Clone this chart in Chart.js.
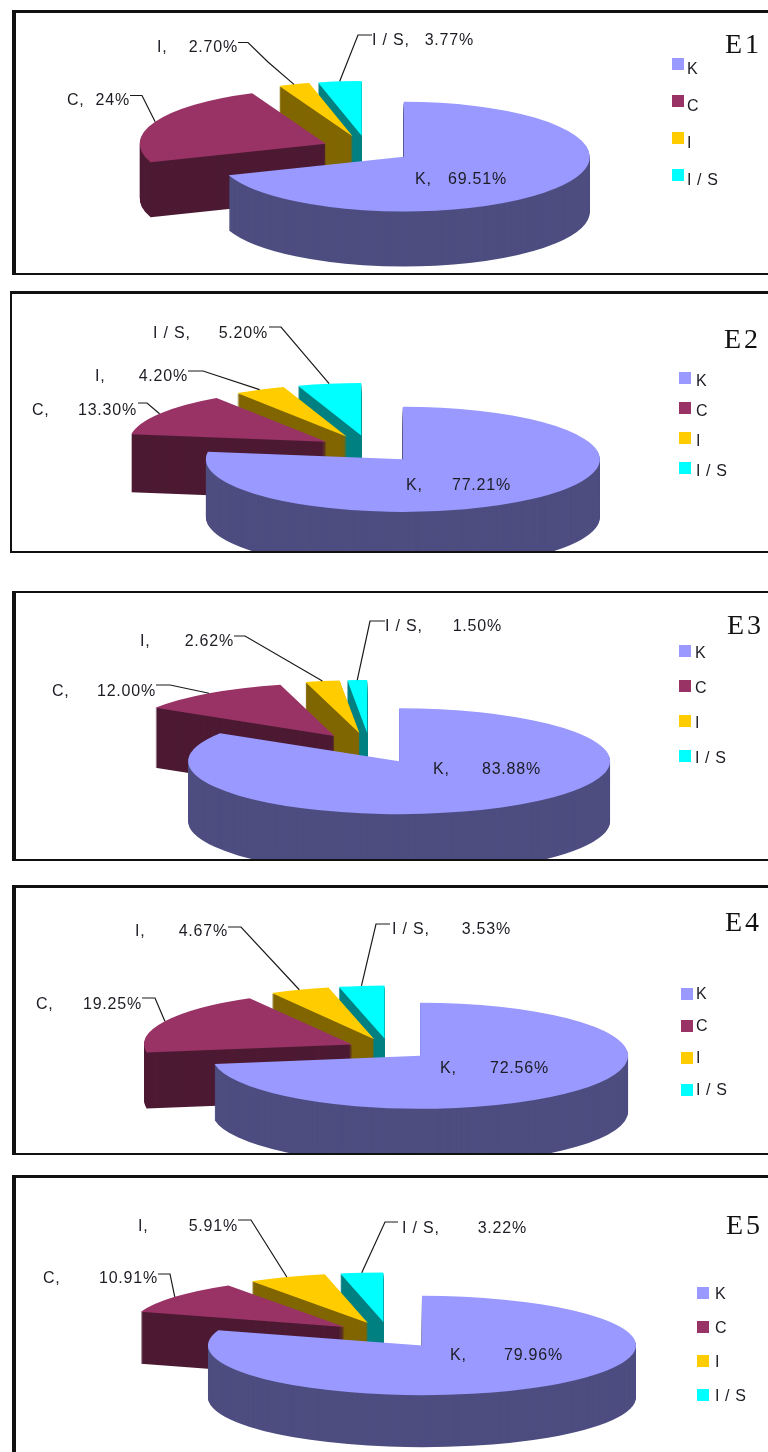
<!DOCTYPE html>
<html>
<head>
<meta charset="utf-8">
<style>
html,body{margin:0;padding:0;background:#fff;width:768px;height:1452px;overflow:hidden}
#page{position:relative;width:768px;height:1452px;overflow:hidden}
.panel{position:absolute;box-sizing:border-box;border:2px solid #111;overflow:hidden;background:#fff}
canvas{position:absolute;left:0;top:0;display:block;filter:blur(0.45px)}
</style>
</head>
<body>
<div id="page"></div>
<script src="https://cdn.jsdelivr.net/npm/chart.js@4"></script>
<script>
// ---- data ----
const categories = ['K', 'C', 'I', 'I / S'];
const panelNames = ['E1', 'E2', 'E3', 'E4', 'E5'];
const e1Values = [69.51, 24, 2.70, 3.77];
const e2Values = [77.21, 13.30, 4.20, 5.20];
const e3Values = [83.88, 12.00, 2.62, 1.50];
const e4Values = [72.56, 19.25, 4.67, 3.53];
const e5Values = [79.96, 10.91, 5.91, 3.22];
const e1Text = ['69.51%', '24%', '2.70%', '3.77%'];
const e2Text = ['77.21%', '13.30%', '4.20%', '5.20%'];
const e3Text = ['83.88%', '12.00%', '2.62%', '1.50%'];
const e4Text = ['72.56%', '19.25%', '4.67%', '3.53%'];
const e5Text = ['79.96%', '10.91%', '5.91%', '3.22%'];

// ---- styles ----
const topColors = ['#9999ff', '#993366', '#ffcc00', '#00ffff'];
const sideColors = ['#4d4d80', '#4d1a33', '#806600', '#008080'];
const inkColor = '#1c1c24';

// ---- layout (page pixels) ----
const layouts = [
  { box: {l: 12, t: 10, w: 780, h: 265, bl: 4, bt: 3, bb: 2},
    pie: {cx: 367, cy: 149, r: 186, sy: 0.295, depth: 55, explode: 45},
    title: {x: 725, y: 53},
    legend: {x: 672, y: 58, step: 37, tx: 687, ty: 12},
    labels: [
      {x0: 415, x1: 507, y: 180},
      {x0: 67, x1: 130, y: 101, lead: [[130, 95.5], [142, 95.5]]},
      {x0: 157, x1: 238, y: 48, lead: [[238, 42.5], [248, 42.5], [268, 62]]},
      {x0: 372, x1: 474, y: 41, lead: [[372, 35], [358, 35]]}
    ]},
  { box: {l: 10, t: 291, w: 780, h: 262, bl: 2, bt: 3, bb: 2},
    pie: {cx: 369.5, cy: 449, r: 197, sy: 0.267, depth: 58, explode: 51},
    title: {x: 724, y: 348},
    legend: {x: 679, y: 372, step: 30, tx: 696, ty: 10},
    labels: [
      {x0: 406, x1: 511, y: 486},
      {x0: 32, x1: 137, y: 411, lead: [[138, 403], [147, 403]]},
      {x0: 95, x1: 188, y: 377, lead: [[188, 371], [203, 371]]},
      {x0: 153, x1: 268, y: 334, lead: [[269, 327], [281, 327]]}
    ]},
  { box: {l: 12, t: 591, w: 780, h: 270, bl: 4, bt: 2, bb: 2},
    pie: {cx: 370, cy: 748, r: 211, sy: 0.251, depth: 60, explode: 60},
    title: {x: 727, y: 634},
    legend: {x: 679, y: 645, step: 35, tx: 695, ty: 9},
    labels: [
      {x0: 433, x1: 541, y: 770},
      {x0: 52, x1: 156, y: 692, lead: [[156, 685], [170, 685]]},
      {x0: 140, x1: 234, y: 642, lead: [[234, 636], [245, 636]]},
      {x0: 385, x1: 502, y: 627, lead: [[385, 621], [370, 621]]}
    ]},
  { box: {l: 12, t: 885, w: 780, h: 270, bl: 4, bt: 3, bb: 2},
    pie: {cx: 389, cy: 1049, r: 208, sy: 0.255, depth: 56, explode: 41},
    title: {x: 725, y: 931},
    legend: {x: 681, y: 988, step: 32, tx: 696, ty: 7},
    labels: [
      {x0: 440, x1: 549, y: 1069},
      {x0: 36, x1: 142, y: 1005, lead: [[142, 998], [155, 998]]},
      {x0: 135, x1: 228, y: 932, lead: [[228, 927], [241, 927]]},
      {x0: 392, x1: 511, y: 930, lead: [[390, 924], [376, 924]]}
    ]},
  { box: {l: 12, t: 1175, w: 780, h: 300, bl: 4, bt: 3, bb: 2},
    pie: {cx: 389, cy: 1335, r: 214, sy: 0.232, depth: 52, explode: 56},
    title: {x: 726, y: 1234},
    legend: {x: 697, y: 1287, step: 34, tx: 715, ty: 8},
    labels: [
      {x0: 450, x1: 563, y: 1356},
      {x0: 43, x1: 158, y: 1279, lead: [[158, 1274], [170, 1274]]},
      {x0: 138, x1: 238, y: 1227, lead: [[238, 1220], [251, 1220]]},
      {x0: 402, x1: 527, y: 1229, lead: [[398, 1222], [385, 1222]]}
    ]}
];

const allValues = [e1Values, e2Values, e3Values, e4Values, e5Values];
const allText = [e1Text, e2Text, e3Text, e4Text, e5Text];

const pie3d = {
  id: 'pie3d',
  beforeDatasetsDraw(chart, args, opts) {
    const {ctx} = chart;
    const {pie, box, labels, legend, title, name, texts} = opts.spec;
    const arcs = chart.getDatasetMeta(0).data;
    const ox = box.l + box.bl, oy = box.t + box.bt;
    ctx.save();
    ctx.translate(-ox, -oy);

    // slices back to front, each swept downward in its side colour, then its top
    for (let i = arcs.length - 1; i >= 0; i--) {
      const arc = arcs[i];
      const mid = (arc.startAngle + arc.endAngle) / 2;
      const side = Object.create(arc, {
        options: {value: Object.create(arc.options, {backgroundColor: {value: sideColors[i]}})}
      });
      for (let d = pie.depth; d >= 0; d--) {
        ctx.save();
        ctx.translate(pie.cx, pie.cy + d);
        ctx.scale(1, pie.sy);
        ctx.translate(Math.cos(mid) * pie.explode - arc.x, Math.sin(mid) * pie.explode - arc.y);
        if (d === 0) arc.draw(ctx); else side.draw(ctx);
        ctx.restore();
      }
    }

    // leader lines and data labels
    ctx.textBaseline = 'middle';
    ctx.fillStyle = inkColor;
    ctx.strokeStyle = '#1a1a1a';
    ctx.lineWidth = 1.2;
    labels.forEach((lab, i) => {
      const arc = arcs[i];
      if (lab.lead) {
        const mid = (arc.startAngle + arc.endAngle) / 2;
        const reach = arc.outerRadius + pie.explode;
        ctx.beginPath();
        lab.lead.forEach((p, k) => k ? ctx.lineTo(p[0], p[1]) : ctx.moveTo(p[0], p[1]));
        ctx.lineTo(pie.cx + Math.cos(mid) * reach, pie.cy + Math.sin(mid) * reach * pie.sy);
        ctx.stroke();
      }
      ctx.font = '16px "Liberation Sans"';
      ctx.letterSpacing = '0.8px';
      ctx.textAlign = 'left';
      ctx.fillText(categories[i] + ',', lab.x0, lab.y);
      ctx.textAlign = 'right';
      ctx.fillText(texts[i], lab.x1, lab.y);
    });

    // legend
    categories.forEach((cat, i) => {
      const y = legend.y + i * legend.step;
      ctx.fillStyle = topColors[i];
      ctx.fillRect(legend.x, y, 12, 12);
      ctx.fillStyle = inkColor;
      ctx.font = '16px "Liberation Sans"';
      ctx.letterSpacing = '0.6px';
      ctx.textAlign = 'left';
      ctx.fillText(cat, legend.tx, y + legend.ty);
    });

    // panel name
    ctx.fillStyle = '#111';
    ctx.font = '28px "Liberation Serif"';
    ctx.letterSpacing = '3px';
    ctx.textAlign = 'left';
    ctx.textBaseline = 'alphabetic';
    ctx.fillText(name, title.x, title.y);

    ctx.restore();
    return false;
  }
};

const page = document.getElementById('page');
layouts.forEach((spec, n) => {
  const {box} = spec;
  const div = document.createElement('div');
  div.className = 'panel';
  div.style.cssText = `left:${box.l}px;top:${box.t}px;width:${box.w}px;height:${box.h}px;` +
    `border-left-width:${box.bl}px;border-top-width:${box.bt}px;border-bottom-width:${box.bb}px`;
  const cv = document.createElement('canvas');
  const w = box.w - box.bl - 2, h = box.h - box.bt - box.bb;
  cv.width = w; cv.height = h;
  cv.style.width = w + 'px'; cv.style.height = h + 'px';
  div.appendChild(cv);
  page.appendChild(div);
  new Chart(cv, {
    type: 'pie',
    plugins: [pie3d],
    data: {
      labels: categories,
      datasets: [{
        data: allValues[n],
        backgroundColor: topColors,
        borderWidth: 0
      }]
    },
    options: {
      responsive: false,
      animation: false,
      radius: spec.pie.r,
      plugins: {
        legend: {display: false},
        tooltip: {enabled: false},
        pie3d: {spec: {...spec, name: panelNames[n], texts: allText[n]}}
      }
    }
  });
});
</script>
</body>
</html>
